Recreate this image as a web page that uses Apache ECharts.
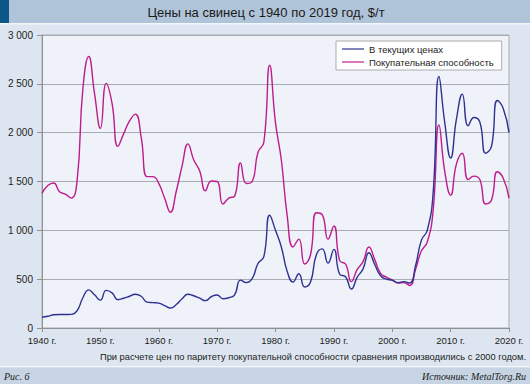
<!DOCTYPE html>
<html>
<head>
<meta charset="utf-8">
<script src="https://cdn.jsdelivr.net/npm/echarts@6/dist/echarts.min.js"></script>
<style>
html,body{margin:0;padding:0;background:#dde6f0;}
#c{width:530px;height:384px;}
</style>
</head>
<body>
<div id="c"></div>
<script>
const years = [1940,1941,1942,1943,1944,1945,1946,1947,1948,1949,
1950,1951,1952,1953,1954,1955,1956,1957,1958,1959,
1960,1961,1962,1963,1964,1965,1966,1967,1968,1969,
1970,1971,1972,1973,1974,1975,1976,1977,1978,1979,
1980,1981,1982,1983,1984,1985,1986,1987,1988,1989,
1990,1991,1992,1993,1994,1995,1996,1997,1998,1999,
2000,2001,2002,2003,2004,2005,2006,2007,2008,2009,
2010,2011,2012,2013,2014,2015,2016,2017,2018,2019,2020];

const currentPrices = [110,120,135,138,138,140,175,310,390,340,
285,385,360,290,305,325,345,325,265,260,
255,230,205,240,300,345,330,305,280,320,
338,300,310,340,490,465,505,660,730,1155,
1000,830,580,470,555,420,470,750,810,665,
805,550,525,400,520,605,770,650,535,500,
490,465,475,460,640,900,1000,1380,2575,2100,
1740,2140,2395,2070,2155,2110,1790,1860,2330,2250,2000];

const purchasingPower = [1380,1460,1485,1395,1370,1330,1500,2450,2780,2400,
2045,2505,2300,1860,1990,2120,2190,1950,1550,1550,
1480,1330,1185,1400,1660,1885,1720,1610,1405,1505,
1500,1270,1330,1350,1690,1480,1500,1800,1900,2690,
2100,1720,1150,830,910,655,750,1180,1160,910,
1045,690,655,475,600,680,830,700,560,520,
490,460,465,435,600,790,880,1200,2080,1600,
1360,1680,1790,1520,1555,1520,1270,1310,1600,1535,1330];

const yTicks = [0,500,1000,1500,2000,2500,3000];
const seriesNames = ['В текущих ценах','Покупательная способность'];
const titleText = 'Цены на свинец с 1940 по 2019 год, $/т';
const noteText = 'При расчете цен по паритету покупательной способности сравнения производились с 2000 годом.';
const figText = 'Рис. 6';
const sourceText = 'Источник: MetalTorg.Ru';

const FONT = '"Liberation Sans", Arial, sans-serif';
const SERIF = '"Liberation Serif", "Times New Roman", serif';

const chart = echarts.init(document.getElementById('c'), null, {renderer:'svg', width:530, height:384});

chart.setOption({
  backgroundColor:'#dde6f0',
  animation:false,
  graphic:[
    {type:'rect', shape:{x:0,y:0,width:530,height:23}, style:{fill:'#b0c4d9'}, z:0},
    {type:'rect', shape:{x:0,y:0,width:9,height:23}, style:{fill:'#0b5785'}, z:1},
    {type:'rect', shape:{x:0,y:23,width:530,height:1.5}, style:{fill:'#f4f7fa'}, z:0},
    {type:'text', x:266, y:12.5, style:{text:titleText, font:'13px '+FONT, fill:'#1a1a1a', align:'center', verticalAlign:'middle'}, z:2},
    {type:'text', x:526, y:357, style:{text:noteText, font:'9.3px '+FONT, fill:'#222', align:'right', verticalAlign:'middle'}, z:2},
    {type:'rect', shape:{x:0,y:366,width:530,height:1.5}, style:{fill:'#f4f7fa'}, z:0},
    {type:'rect', shape:{x:0,y:367.5,width:530,height:16.5}, style:{fill:'#c6d4e3'}, z:0},
    {type:'text', x:4, y:376, style:{text:figText, font:'italic 10px '+SERIF, fill:'#222', align:'left', verticalAlign:'middle'}, z:2},
    {type:'text', x:526, y:376, style:{text:sourceText, font:'italic 10px '+SERIF, fill:'#222', align:'right', verticalAlign:'middle'}, z:2}
  ],
  grid:{left:42, right:21, top:35, bottom:56, show:true, backgroundColor:'#eff3f9', borderColor:'#a9acb0', borderWidth:1},
  legend:{
    left:336, top:41, orient:'vertical',
    backgroundColor:'#ffffff', borderColor:'#a9acb0', borderWidth:1, borderRadius:0,
    padding:[3,8,3,6], itemGap:3, itemWidth:22, itemHeight:10,
    textStyle:{fontFamily:FONT, fontSize:9.5, color:'#222'},
    data:[
      {name:seriesNames[0], icon:'path://M0,4.4L22,4.4L22,5.6L0,5.6Z'},
      {name:seriesNames[1], icon:'path://M0,4.4L22,4.4L22,5.6L0,5.6Z'}
    ]
  },
  xAxis:{
    type:'value', min:1940, max:2020, interval:10,
    axisLine:{show:true, lineStyle:{color:'#8e9196', width:1}},
    axisTick:{show:true, length:4, lineStyle:{color:'#8e9196'}},
    axisLabel:{formatter:function(v){return String(v)+' г.';}, fontFamily:FONT, fontSize:9.5, color:'#222', margin:7},
    splitLine:{show:false}
  },
  yAxis:{
    type:'value', min:0, max:3000, interval:500,
    axisLine:{show:true, lineStyle:{color:'#8e9196', width:1}},
    axisTick:{show:true, length:5, lineStyle:{color:'#8e9196'}},
    axisLabel:{fontFamily:FONT, fontSize:10, color:'#222', margin:9,
      formatter:function(v){return String(v).replace(/\B(?=(\d{3})+(?!\d))/g,' ');}},
    splitLine:{show:true, lineStyle:{color:'#a9acb0', width:1}}
  },
  series:[
    {name:seriesNames[0], type:'line', smooth:0.5, symbol:'none',
     lineStyle:{color:'#2e3192', width:1.4}, itemStyle:{color:'#2e3192'},
     data:years.map((y,i)=>[y,currentPrices[i]]), z:3},
    {name:seriesNames[1], type:'line', smooth:0.5, symbol:'none',
     lineStyle:{color:'#be1b8c', width:1.4}, itemStyle:{color:'#be1b8c'},
     data:years.map((y,i)=>[y,purchasingPower[i]]), z:2}
  ]
});
</script>
</body>
</html>
